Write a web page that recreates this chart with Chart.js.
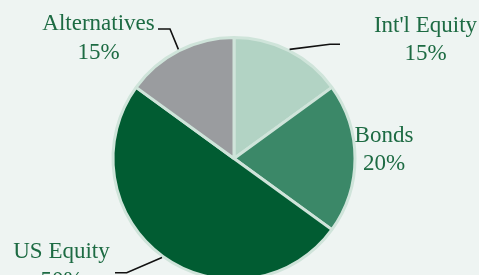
<!DOCTYPE html>
<html>
<head>
<meta charset="utf-8">
<script src="https://cdn.jsdelivr.net/npm/chart.js@4"></script>
<style>
  html, body { margin: 0; padding: 0; background: #eef4f2; overflow: hidden; }
  #wrap { position: relative; width: 479px; height: 300px; }
</style>
</head>
<body>
<div id="wrap"><canvas id="c" width="479" height="300"></canvas></div>
<script>
// ---- data ----
const categories = ["Int'l Equity", "Bonds", "US Equity", "Alternatives"];
const allocation = [15, 20, 50, 15];
const percentLabels = ["15%", "20%", "50%", "15%"];

// ---- style / layout ----
const sliceColors = ['#b2d3c4', '#3b8868', '#015c32', '#9a9c9f'];
const ringColor = '#cfe4da';
const textColor = '#1d6b43';
// label anchor (centre x, first baseline y) and leader elbow / end, per category
const labelAnchors = [[425.5, 31.5], [384, 141.7], [61.5, 258], [98.5, 30]];
const leaderElbows = [[330, 44.3], null, [126.7, 272.7], [170, 29]];
const leaderEnds   = [[340, 44.3], null, [115, 272.7], [158, 29]];

const labelPlugin = {
  id: 'outsideLabels',
  afterDraw(chart) {
    const ctx = chart.ctx;
    const meta = chart.getDatasetMeta(0);
    ctx.save();
    meta.data.forEach((arc, i) => {
      const mid = (arc.startAngle + arc.endAngle) / 2;
      if (leaderElbows[i]) {
        const r = arc.outerRadius + 1.5;
        const sx = arc.x + Math.cos(mid) * r;
        const sy = arc.y + Math.sin(mid) * r;
        ctx.beginPath();
        ctx.moveTo(sx, sy);
        ctx.lineTo(leaderElbows[i][0], leaderElbows[i][1]);
        ctx.lineTo(leaderEnds[i][0], leaderEnds[i][1]);
        ctx.strokeStyle = '#111';
        ctx.lineWidth = 1.6;
        ctx.stroke();
      }
      ctx.fillStyle = textColor;
      ctx.font = '23px "Liberation Serif", serif';
      ctx.textAlign = 'center';
      ctx.textBaseline = 'alphabetic';
      ctx.fillText(categories[i], labelAnchors[i][0], labelAnchors[i][1]);
      ctx.fillText(percentLabels[i], labelAnchors[i][0], labelAnchors[i][1] + 28.5);
    });
    ctx.restore();
  }
};

new Chart(document.getElementById('c'), {
  type: 'pie',
  data: {
    labels: categories,
    datasets: [{
      data: allocation,
      backgroundColor: sliceColors,
      borderColor: ringColor,
      borderWidth: 3,
      hoverOffset: 0,
      hoverBorderWidth: 3
    }]
  },
  options: {
    responsive: false,
    animation: false,
    layout: { padding: { top: 36, bottom: 19, left: 100, right: 111 } },
    plugins: { legend: { display: false }, tooltip: { enabled: false } },
    events: []
  },
  plugins: [labelPlugin]
});
</script>
</body>
</html>
